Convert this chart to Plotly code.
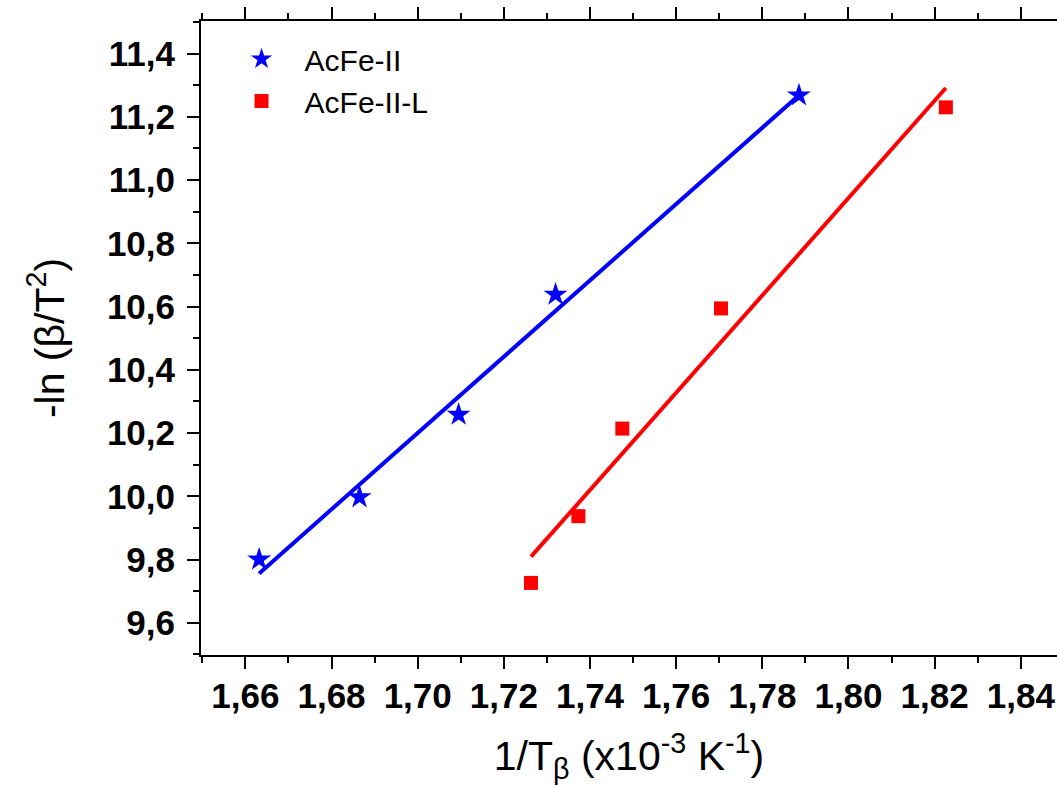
import plotly.graph_objects as go

# Data
acfe_x = [1.6632, 1.6865, 1.7095, 1.7320, 1.7885]
acfe_y = [9.800, 9.997, 10.258, 10.638, 11.268]
acfel_x = [1.7263, 1.7373, 1.7475, 1.7704, 1.8226]
acfel_y = [9.726, 9.937, 10.214, 10.594, 11.230]

# Linear fit end points
fit_acfe_x = [1.6632, 1.7885]
fit_acfe_y = [9.756, 11.268]
fit_acfel_x = [1.7263, 1.8226]
fit_acfel_y = [9.809, 11.291]

x_ticks = [1.66, 1.68, 1.70, 1.72, 1.74, 1.76, 1.78, 1.80, 1.82, 1.84]
y_ticks = [9.6, 9.8, 10.0, 10.2, 10.4, 10.6, 10.8, 11.0, 11.2, 11.4]

BLUE = "#0000FF"
RED = "#FF0000"
FONT = "Liberation Sans, Arial, sans-serif"

fig = go.Figure()
fig.add_trace(go.Scatter(x=fit_acfe_x, y=fit_acfe_y, mode="lines",
                         line=dict(color=BLUE, width=4), showlegend=False,
                         hoverinfo="skip"))
fig.add_trace(go.Scatter(x=fit_acfel_x, y=fit_acfel_y, mode="lines",
                         line=dict(color=RED, width=4), showlegend=False,
                         hoverinfo="skip"))
fig.add_trace(go.Scatter(x=acfe_x, y=acfe_y, mode="markers", name="AcFe-II",
                         marker=dict(symbol="star", size=18, color=BLUE,
                                     line=dict(width=0))))
fig.add_trace(go.Scatter(x=acfel_x, y=acfel_y, mode="markers", name="AcFe-II-L",
                         marker=dict(symbol="square", size=14, color=RED,
                                     line=dict(width=0))))

axis_common = dict(
    showline=True, linecolor="black", linewidth=2,
    ticks="outside", ticklen=12, tickwidth=2, tickcolor="black",
    showgrid=False, zeroline=False,
    tickfont=dict(family=FONT, size=35, color="black", weight="bold"),
)

fig.update_xaxes(
    range=[1.6497, 1.8484], tickvals=x_ticks, tickformat=".2f",
    mirror="ticks", ticklabelstandoff=-3,
    minor=dict(dtick=0.01, tick0=1.65, ticks="outside", ticklen=6,
               tickwidth=2, tickcolor="black", showgrid=False),
    title=dict(text="1/T<sub>β</sub> (x10<sup>-3</sup> K<sup>-1</sup>)",
               font=dict(family=FONT, size=41, color="black"), standoff=28),
    **axis_common,
)
fig.update_yaxes(
    range=[9.498, 11.503], tickvals=y_ticks, tickformat=".1f",
    ticklabelstandoff=5,
    minor=dict(dtick=0.1, tick0=9.5, ticks="outside", ticklen=6,
               tickwidth=2, tickcolor="black", showgrid=False),
    title=dict(text="-ln (β/T<sup>2</sup>)",
               font=dict(family=FONT, size=41, color="black"), standoff=30),
    **axis_common,
)

fig.update_layout(
    width=1057, height=785,
    margin=dict(l=201, r=0, t=21, b=130, autoexpand=False),
    plot_bgcolor="white", paper_bgcolor="white",
    separators=",.",
    font=dict(family=FONT, color="black"),
    legend=dict(x=0.0205, y=0.981, xanchor="left", yanchor="top",
                font=dict(family=FONT, size=30, color="black"),
                bgcolor="rgba(0,0,0,0)", itemsizing="trace",
                itemwidth=76, tracegroupgap=0),
    showlegend=True,
)

fig.write_html(
    "out.html",
    config={"displayModeBar": False},
    post_script="document.body.style.margin='0px';document.body.style.overflow='hidden';",
)
